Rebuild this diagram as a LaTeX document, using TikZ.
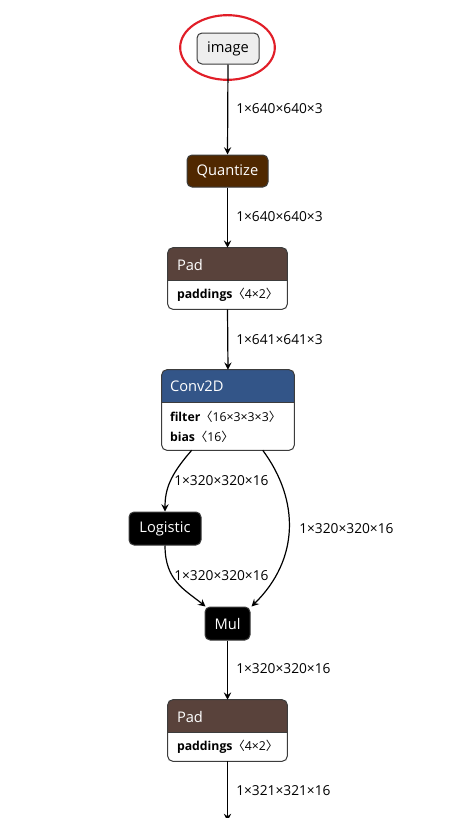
\documentclass[tikz,border=0pt]{standalone}
\usepackage{fontspec}
\setmainfont{Open Sans}
\newfontfamily\cjk{Noto Sans CJK SC}
\usetikzlibrary{arrows.meta,calc,shapes.geometric}
\definecolor{quantc}{RGB}{80,40,0}
\definecolor{padc}{RGB}{89,66,59}
\definecolor{convc}{RGB}{51,85,136}
\definecolor{inc}{RGB}{238,238,238}
\definecolor{bordc}{RGB}{60,60,60}
\definecolor{ringc}{RGB}{225,30,40}
\newcommand{\lbk}{{\cjk 〈}}
\newcommand{\rbk}{{\cjk 〉}}
\begin{document}
\begin{tikzpicture}[x=0.75pt,y=-0.75pt,
  op/.style={draw=bordc, line width=0.75pt, rounded corners=3.75pt, text=white,
    font=\fontsize{11}{13}\selectfont, inner sep=0pt},
  lbl/.style={font=\fontsize{10.3}{12}\selectfont, inner sep=0pt, anchor=west},
  hdr/.style={font=\fontsize{11}{13}\selectfont, text=white, inner sep=0pt, anchor=west},
  attr/.style={font=\fontsize{9.2}{11}\selectfont, inner sep=0pt, anchor=west},
  frame/.style={draw=bordc, line width=0.75pt, rounded corners=3.75pt},
  holder/.style={inner sep=0pt, fill=white},
  edge/.style={draw=black, line width=0.9pt, -{Stealth[length=5.5pt,width=5.5pt,inset=2pt]}},
  ring/.style={draw=ringc, line width=1.6pt}
]
\useasboundingbox (0,0) rectangle (464,818);

% image input
\node[op, fill=inc, text=black, minimum width=46.5pt, minimum height=23.25pt] (img) at (228,48.5) {image};
\node[ring, ellipse, minimum width=71pt, minimum height=48.5pt, inner sep=0pt] (ringn) at (227.5,47.5) {};

% Quantize
\node[op, fill=quantc, minimum width=60.75pt, minimum height=24pt] (quant) at (227.5,171) {Quantize};

% Pad 1
\node[holder, minimum width=89.25pt, minimum height=45.75pt] (pad1) at (227.5,278.5) {};
\begin{scope}
\clip[rounded corners=3.75pt] (pad1.north west) rectangle (pad1.south east);
\fill[padc] (pad1.north west) rectangle ($(pad1.north east)+(0,33)$);
\end{scope}
\draw[frame] (pad1.north west) rectangle (pad1.south east);
\draw[draw=bordc, line width=0.6pt] ($(pad1.north west)+(0,33)$) -- ($(pad1.north east)+(0,33)$);
\node[hdr] (pad1h) at ($(pad1.north west)+(9,17)$) {Pad};
\node[attr] (pad1a) at ($(pad1.north west)+(9,47.5)$) {\textbf{paddings}\lbk 4×2\rbk};

% Conv2D
\node[holder, minimum width=99pt, minimum height=60pt] (conv) at (228,410) {};
\begin{scope}
\clip[rounded corners=3.75pt] (conv.north west) rectangle (conv.south east);
\fill[convc] (conv.north west) rectangle ($(conv.north east)+(0,33)$);
\end{scope}
\draw[frame] (conv.north west) rectangle (conv.south east);
\draw[draw=bordc, line width=0.6pt] ($(conv.north west)+(0,33)$) -- ($(conv.north east)+(0,33)$);
\node[hdr] (convh) at ($(conv.north west)+(8,17)$) {Conv2D};
\node[attr] (conva) at ($(conv.north west)+(8,47.5)$) {\textbf{filter}\lbk 16×3×3×3\rbk};
\node[attr] (convb) at ($(conv.north west)+(8,67.5)$) {\textbf{bias}\lbk 16\rbk};

% Logistic and Mul
\node[op, fill=black, minimum width=54pt, minimum height=24.75pt] (logi) at (165,528.5) {Logistic};
\node[op, fill=black, minimum width=33.75pt, minimum height=24.75pt] (mul) at (227.5,623.5) {Mul};

% Pad 2
\node[holder, minimum width=89.25pt, minimum height=45.75pt] (pad2) at (227.5,730.5) {};
\begin{scope}
\clip[rounded corners=3.75pt] (pad2.north west) rectangle (pad2.south east);
\fill[padc] (pad2.north west) rectangle ($(pad2.north east)+(0,33)$);
\end{scope}
\draw[frame] (pad2.north west) rectangle (pad2.south east);
\draw[draw=bordc, line width=0.6pt] ($(pad2.north west)+(0,33)$) -- ($(pad2.north east)+(0,33)$);
\node[hdr] (pad2h) at ($(pad2.north west)+(9,17)$) {Pad};
\node[attr] (pad2a) at ($(pad2.north west)+(9,47.5)$) {\textbf{paddings}\lbk 4×2\rbk};

\coordinate (outend) at (227.5,821);

% edges
\draw[edge] (img.south) -- (quant.north);
\draw[edge] (quant.south) -- (pad1.north);
\draw[edge] (pad1.south) -- (conv.north);
\draw[edge] ($(conv.south west)+(30,0)$) .. controls ($(conv.south west)+(8,25)$) and ($(logi.north)+(0,-22)$) .. (logi.north);
\draw[edge] ($(conv.south west)+(101,0)$) .. controls ($(conv.south west)+(138,50)$) and ($(mul.north east)+(49,-47)$) .. ($(mul.north east)+(1,0)$);
\draw[edge] (logi.south) .. controls ($(logi.south)+(0,35)$) and ($(mul.north west)+(-20,-17)$) .. ($(mul.north west)+(1,0)$);
\draw[edge] (mul.south) -- (pad2.north);
\draw[edge] (pad2.south) -- (outend);

% edge labels
\node[lbl] (l1) at (236,109) {1×640×640×3};
\node[lbl] (l2) at (236,217) {1×640×640×3};
\node[lbl] (l3) at (236,340) {1×641×641×3};
\node[lbl] (l4) at (174,481) {1×320×320×16};
\node[lbl] (l5) at (299,529) {1×320×320×16};
\node[lbl] (l6) at (174,576) {1×320×320×16};
\node[lbl] (l7) at (236,669) {1×320×320×16};
\node[lbl] (l8) at (236,791) {1×321×321×16};
\end{tikzpicture}
\end{document}
